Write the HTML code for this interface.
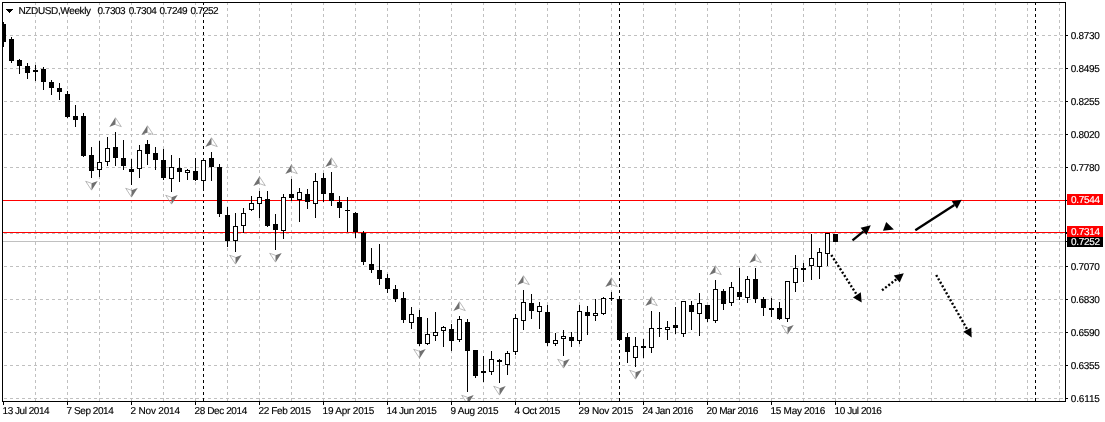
<!DOCTYPE html>
<html><head><meta charset="utf-8"><title>NZDUSD Weekly</title>
<style>
html,body{margin:0;padding:0;background:#fff;}
body{width:1105px;height:422px;overflow:hidden;position:relative;font-family:"Liberation Sans",Arial,sans-serif;}
</style></head><body>
<svg width="1105" height="422" viewBox="0 0 1105 422" style="position:absolute;left:0;top:0">
<rect x="0" y="0" width="1105" height="422" fill="#fff"/>
<clipPath id="cp"><rect x="3" y="3" width="1062" height="398"/></clipPath>
<g shape-rendering="crispEdges" stroke="#c0c0c0" stroke-width="1" fill="none">
<path d="M35.5 2V401 M67.5 2V401 M99.5 2V401 M131.5 2V401 M163.5 2V401 M195.5 2V401 M227.5 2V401 M259.5 2V401 M291.5 2V401 M323.5 2V401 M355.5 2V401 M387.5 2V401 M419.5 2V401 M451.5 2V401 M483.5 2V401 M515.5 2V401 M547.5 2V401 M579.5 2V401 M611.5 2V401 M643.5 2V401 M675.5 2V401 M707.5 2V401 M739.5 2V401 M771.5 2V401 M803.5 2V401 M835.5 2V401 M867.5 2V401 M899.5 2V401 M931.5 2V401 M963.5 2V401 M995.5 2V401 M1027.5 2V401 M1059.5 2V401" stroke-dasharray="3 3"/>
<path d="M4 35.5H1065 M4 68.5H1065 M4 101.5H1065 M4 134.5H1065 M4 167.5H1065 M4 200.5H1065 M4 233.5H1065 M4 266.5H1065 M4 299.5H1065 M4 332.5H1065 M4 365.5H1065 M4 398.5H1065" stroke-dasharray="3 3"/>
</g>
<g shape-rendering="crispEdges" stroke="#000" stroke-width="1" fill="none">
<path d="M203.5 2V401M619.5 2V401M1035.5 2V401" stroke-dasharray="3 3"/>
</g>
<g shape-rendering="crispEdges">
<rect x="3" y="241" width="1062" height="1" fill="#c0c0c0"/>
<rect x="3" y="200" width="1062" height="1" fill="#f00"/>
<rect x="3" y="232" width="1062" height="1" fill="#f00"/>
</g>
<g shape-rendering="crispEdges" clip-path="url(#cp)">
<rect x="3" y="22" width="1" height="25" fill="#000"/>
<rect x="1" y="24" width="5" height="18" fill="#000"/>
<rect x="11" y="37" width="1" height="26" fill="#000"/>
<rect x="9" y="39" width="5" height="22" fill="#000"/>
<rect x="19" y="59" width="1" height="15" fill="#000"/>
<rect x="17" y="60" width="5" height="6" fill="#000"/>
<rect x="27" y="63" width="1" height="16" fill="#000"/>
<rect x="25" y="66" width="5" height="7" fill="#000"/>
<rect x="35" y="65" width="1" height="16" fill="#000"/>
<rect x="33" y="70" width="5" height="2" fill="#000"/>
<rect x="43" y="67" width="1" height="23" fill="#000"/>
<rect x="41" y="69" width="5" height="13" fill="#000"/>
<rect x="51" y="80" width="1" height="15" fill="#000"/>
<rect x="49" y="82" width="5" height="6" fill="#000"/>
<rect x="59" y="83" width="1" height="17" fill="#000"/>
<rect x="57" y="88" width="5" height="4" fill="#000"/>
<rect x="67" y="91" width="1" height="27" fill="#000"/>
<rect x="65" y="94" width="5" height="23" fill="#000"/>
<rect x="75" y="105" width="1" height="22" fill="#000"/>
<rect x="73" y="116" width="5" height="4" fill="#000"/>
<rect x="83" y="113" width="1" height="44" fill="#000"/>
<rect x="81" y="116" width="5" height="40" fill="#000"/>
<rect x="91" y="147" width="1" height="31" fill="#000"/>
<rect x="89" y="155" width="5" height="16" fill="#000"/>
<rect x="99" y="141" width="1" height="36" fill="#000"/>
<rect x="97" y="162" width="5" height="8" fill="#000"/>
<rect x="98" y="163" width="3" height="6" fill="#fff"/>
<rect x="107" y="137" width="1" height="29" fill="#000"/>
<rect x="105" y="148" width="5" height="14" fill="#000"/>
<rect x="106" y="149" width="3" height="12" fill="#fff"/>
<rect x="115" y="132" width="1" height="34" fill="#000"/>
<rect x="113" y="147" width="5" height="11" fill="#000"/>
<rect x="123" y="140" width="1" height="30" fill="#000"/>
<rect x="121" y="158" width="5" height="8" fill="#000"/>
<rect x="131" y="159" width="1" height="26" fill="#000"/>
<rect x="129" y="169" width="5" height="3" fill="#000"/>
<rect x="139" y="145" width="1" height="33" fill="#000"/>
<rect x="137" y="150" width="5" height="19" fill="#000"/>
<rect x="138" y="151" width="3" height="17" fill="#fff"/>
<rect x="147" y="140" width="1" height="25" fill="#000"/>
<rect x="145" y="144" width="5" height="10" fill="#000"/>
<rect x="155" y="147" width="1" height="23" fill="#000"/>
<rect x="153" y="153" width="5" height="7" fill="#000"/>
<rect x="163" y="149" width="1" height="31" fill="#000"/>
<rect x="161" y="160" width="5" height="18" fill="#000"/>
<rect x="171" y="155" width="1" height="37" fill="#000"/>
<rect x="169" y="167" width="5" height="12" fill="#000"/>
<rect x="170" y="168" width="3" height="10" fill="#fff"/>
<rect x="179" y="158" width="1" height="24" fill="#000"/>
<rect x="177" y="168" width="5" height="4" fill="#000"/>
<rect x="187" y="169" width="1" height="11" fill="#000"/>
<rect x="185" y="170" width="5" height="3" fill="#000"/>
<rect x="186" y="171" width="3" height="1" fill="#fff"/>
<rect x="195" y="158" width="1" height="23" fill="#000"/>
<rect x="193" y="171" width="5" height="9" fill="#000"/>
<rect x="203" y="158" width="1" height="33" fill="#000"/>
<rect x="201" y="160" width="5" height="21" fill="#000"/>
<rect x="202" y="161" width="3" height="19" fill="#fff"/>
<rect x="211" y="152" width="1" height="29" fill="#000"/>
<rect x="209" y="158" width="5" height="9" fill="#000"/>
<rect x="219" y="164" width="1" height="53" fill="#000"/>
<rect x="217" y="167" width="5" height="47" fill="#000"/>
<rect x="227" y="207" width="1" height="40" fill="#000"/>
<rect x="225" y="215" width="5" height="26" fill="#000"/>
<rect x="235" y="213" width="1" height="39" fill="#000"/>
<rect x="233" y="226" width="5" height="15" fill="#000"/>
<rect x="234" y="227" width="3" height="13" fill="#fff"/>
<rect x="243" y="208" width="1" height="25" fill="#000"/>
<rect x="241" y="213" width="5" height="13" fill="#000"/>
<rect x="242" y="214" width="3" height="11" fill="#fff"/>
<rect x="251" y="196" width="1" height="15" fill="#000"/>
<rect x="249" y="203" width="5" height="7" fill="#000"/>
<rect x="250" y="204" width="3" height="5" fill="#fff"/>
<rect x="259" y="191" width="1" height="27" fill="#000"/>
<rect x="257" y="197" width="5" height="7" fill="#000"/>
<rect x="258" y="198" width="3" height="5" fill="#fff"/>
<rect x="267" y="191" width="1" height="36" fill="#000"/>
<rect x="265" y="199" width="5" height="27" fill="#000"/>
<rect x="275" y="214" width="1" height="36" fill="#000"/>
<rect x="273" y="224" width="5" height="6" fill="#000"/>
<rect x="283" y="194" width="1" height="45" fill="#000"/>
<rect x="281" y="197" width="5" height="34" fill="#000"/>
<rect x="282" y="198" width="3" height="32" fill="#fff"/>
<rect x="291" y="179" width="1" height="22" fill="#000"/>
<rect x="289" y="194" width="5" height="4" fill="#000"/>
<rect x="299" y="188" width="1" height="34" fill="#000"/>
<rect x="297" y="192" width="5" height="8" fill="#000"/>
<rect x="298" y="193" width="3" height="6" fill="#fff"/>
<rect x="307" y="189" width="1" height="20" fill="#000"/>
<rect x="305" y="194" width="5" height="8" fill="#000"/>
<rect x="315" y="173" width="1" height="45" fill="#000"/>
<rect x="313" y="181" width="5" height="23" fill="#000"/>
<rect x="314" y="182" width="3" height="21" fill="#fff"/>
<rect x="323" y="173" width="1" height="29" fill="#000"/>
<rect x="321" y="178" width="5" height="16" fill="#000"/>
<rect x="331" y="172" width="1" height="34" fill="#000"/>
<rect x="329" y="193" width="5" height="8" fill="#000"/>
<rect x="339" y="196" width="1" height="22" fill="#000"/>
<rect x="337" y="202" width="5" height="6" fill="#000"/>
<rect x="347" y="197" width="1" height="35" fill="#000"/>
<rect x="345" y="210" width="5" height="1" fill="#000"/>
<rect x="355" y="212" width="1" height="26" fill="#000"/>
<rect x="353" y="213" width="5" height="19" fill="#000"/>
<rect x="363" y="231" width="1" height="34" fill="#000"/>
<rect x="361" y="233" width="5" height="29" fill="#000"/>
<rect x="371" y="248" width="1" height="25" fill="#000"/>
<rect x="369" y="264" width="5" height="6" fill="#000"/>
<rect x="379" y="244" width="1" height="41" fill="#000"/>
<rect x="377" y="270" width="5" height="9" fill="#000"/>
<rect x="387" y="274" width="1" height="19" fill="#000"/>
<rect x="385" y="278" width="5" height="11" fill="#000"/>
<rect x="395" y="285" width="1" height="17" fill="#000"/>
<rect x="393" y="289" width="5" height="10" fill="#000"/>
<rect x="403" y="292" width="1" height="31" fill="#000"/>
<rect x="401" y="298" width="5" height="22" fill="#000"/>
<rect x="411" y="307" width="1" height="22" fill="#000"/>
<rect x="409" y="314" width="5" height="9" fill="#000"/>
<rect x="410" y="315" width="3" height="7" fill="#fff"/>
<rect x="419" y="310" width="1" height="36" fill="#000"/>
<rect x="417" y="317" width="5" height="27" fill="#000"/>
<rect x="427" y="318" width="1" height="27" fill="#000"/>
<rect x="425" y="334" width="5" height="10" fill="#000"/>
<rect x="426" y="335" width="3" height="8" fill="#fff"/>
<rect x="435" y="312" width="1" height="29" fill="#000"/>
<rect x="433" y="332" width="5" height="4" fill="#000"/>
<rect x="434" y="333" width="3" height="2" fill="#fff"/>
<rect x="443" y="326" width="1" height="21" fill="#000"/>
<rect x="441" y="327" width="5" height="4" fill="#000"/>
<rect x="442" y="328" width="3" height="2" fill="#fff"/>
<rect x="451" y="324" width="1" height="27" fill="#000"/>
<rect x="449" y="329" width="5" height="12" fill="#000"/>
<rect x="459" y="316" width="1" height="26" fill="#000"/>
<rect x="457" y="319" width="5" height="21" fill="#000"/>
<rect x="458" y="320" width="3" height="19" fill="#fff"/>
<rect x="467" y="319" width="1" height="73" fill="#000"/>
<rect x="465" y="322" width="5" height="29" fill="#000"/>
<rect x="475" y="350" width="1" height="28" fill="#000"/>
<rect x="473" y="350" width="5" height="26" fill="#000"/>
<rect x="483" y="356" width="1" height="26" fill="#000"/>
<rect x="481" y="371" width="5" height="2" fill="#000"/>
<rect x="491" y="351" width="1" height="24" fill="#000"/>
<rect x="489" y="359" width="5" height="13" fill="#000"/>
<rect x="490" y="360" width="3" height="11" fill="#fff"/>
<rect x="499" y="359" width="1" height="24" fill="#000"/>
<rect x="497" y="360" width="5" height="2" fill="#000"/>
<rect x="507" y="351" width="1" height="24" fill="#000"/>
<rect x="505" y="353" width="5" height="12" fill="#000"/>
<rect x="506" y="354" width="3" height="10" fill="#fff"/>
<rect x="515" y="314" width="1" height="41" fill="#000"/>
<rect x="513" y="318" width="5" height="34" fill="#000"/>
<rect x="514" y="319" width="3" height="32" fill="#fff"/>
<rect x="523" y="290" width="1" height="40" fill="#000"/>
<rect x="521" y="302" width="5" height="19" fill="#000"/>
<rect x="522" y="303" width="3" height="17" fill="#fff"/>
<rect x="531" y="294" width="1" height="25" fill="#000"/>
<rect x="529" y="303" width="5" height="8" fill="#000"/>
<rect x="539" y="302" width="1" height="27" fill="#000"/>
<rect x="537" y="306" width="5" height="6" fill="#000"/>
<rect x="538" y="307" width="3" height="4" fill="#fff"/>
<rect x="547" y="305" width="1" height="41" fill="#000"/>
<rect x="545" y="312" width="5" height="31" fill="#000"/>
<rect x="555" y="333" width="1" height="13" fill="#000"/>
<rect x="553" y="340" width="5" height="4" fill="#000"/>
<rect x="554" y="341" width="3" height="2" fill="#fff"/>
<rect x="563" y="330" width="1" height="26" fill="#000"/>
<rect x="561" y="336" width="5" height="3" fill="#000"/>
<rect x="562" y="337" width="3" height="1" fill="#fff"/>
<rect x="571" y="332" width="1" height="15" fill="#000"/>
<rect x="569" y="337" width="5" height="4" fill="#000"/>
<rect x="579" y="305" width="1" height="39" fill="#000"/>
<rect x="577" y="311" width="5" height="30" fill="#000"/>
<rect x="578" y="312" width="3" height="28" fill="#fff"/>
<rect x="587" y="306" width="1" height="29" fill="#000"/>
<rect x="585" y="312" width="5" height="4" fill="#000"/>
<rect x="595" y="299" width="1" height="22" fill="#000"/>
<rect x="593" y="313" width="5" height="3" fill="#000"/>
<rect x="594" y="314" width="3" height="1" fill="#fff"/>
<rect x="603" y="297" width="1" height="18" fill="#000"/>
<rect x="601" y="298" width="5" height="16" fill="#000"/>
<rect x="602" y="299" width="3" height="14" fill="#fff"/>
<rect x="611" y="292" width="1" height="9" fill="#000"/>
<rect x="609" y="298" width="5" height="1" fill="#000"/>
<rect x="619" y="297" width="1" height="44" fill="#000"/>
<rect x="617" y="299" width="5" height="41" fill="#000"/>
<rect x="627" y="333" width="1" height="30" fill="#000"/>
<rect x="625" y="337" width="5" height="15" fill="#000"/>
<rect x="635" y="337" width="1" height="30" fill="#000"/>
<rect x="633" y="346" width="5" height="12" fill="#000"/>
<rect x="634" y="347" width="3" height="10" fill="#fff"/>
<rect x="643" y="339" width="1" height="19" fill="#000"/>
<rect x="641" y="346" width="5" height="2" fill="#000"/>
<rect x="651" y="311" width="1" height="42" fill="#000"/>
<rect x="649" y="328" width="5" height="20" fill="#000"/>
<rect x="650" y="329" width="3" height="18" fill="#fff"/>
<rect x="659" y="312" width="1" height="25" fill="#000"/>
<rect x="657" y="328" width="5" height="1" fill="#000"/>
<rect x="667" y="321" width="1" height="19" fill="#000"/>
<rect x="665" y="327" width="5" height="3" fill="#000"/>
<rect x="666" y="328" width="3" height="1" fill="#fff"/>
<rect x="675" y="307" width="1" height="27" fill="#000"/>
<rect x="673" y="325" width="5" height="3" fill="#000"/>
<rect x="683" y="301" width="1" height="36" fill="#000"/>
<rect x="681" y="301" width="5" height="33" fill="#000"/>
<rect x="682" y="302" width="3" height="31" fill="#fff"/>
<rect x="691" y="301" width="1" height="29" fill="#000"/>
<rect x="689" y="305" width="5" height="7" fill="#000"/>
<rect x="699" y="293" width="1" height="43" fill="#000"/>
<rect x="697" y="303" width="5" height="11" fill="#000"/>
<rect x="698" y="304" width="3" height="9" fill="#fff"/>
<rect x="707" y="305" width="1" height="17" fill="#000"/>
<rect x="705" y="305" width="5" height="14" fill="#000"/>
<rect x="715" y="280" width="1" height="43" fill="#000"/>
<rect x="713" y="289" width="5" height="32" fill="#000"/>
<rect x="714" y="290" width="3" height="30" fill="#fff"/>
<rect x="723" y="289" width="1" height="21" fill="#000"/>
<rect x="721" y="291" width="5" height="13" fill="#000"/>
<rect x="731" y="282" width="1" height="24" fill="#000"/>
<rect x="729" y="287" width="5" height="16" fill="#000"/>
<rect x="730" y="288" width="3" height="14" fill="#fff"/>
<rect x="739" y="268" width="1" height="32" fill="#000"/>
<rect x="737" y="292" width="5" height="5" fill="#000"/>
<rect x="747" y="276" width="1" height="27" fill="#000"/>
<rect x="745" y="279" width="5" height="19" fill="#000"/>
<rect x="746" y="280" width="3" height="17" fill="#fff"/>
<rect x="755" y="268" width="1" height="35" fill="#000"/>
<rect x="753" y="279" width="5" height="20" fill="#000"/>
<rect x="763" y="297" width="1" height="19" fill="#000"/>
<rect x="761" y="299" width="5" height="9" fill="#000"/>
<rect x="771" y="298" width="1" height="19" fill="#000"/>
<rect x="769" y="308" width="5" height="2" fill="#000"/>
<rect x="779" y="302" width="1" height="18" fill="#000"/>
<rect x="777" y="308" width="5" height="11" fill="#000"/>
<rect x="787" y="281" width="1" height="41" fill="#000"/>
<rect x="785" y="281" width="5" height="38" fill="#000"/>
<rect x="786" y="282" width="3" height="36" fill="#fff"/>
<rect x="795" y="255" width="1" height="37" fill="#000"/>
<rect x="793" y="268" width="5" height="15" fill="#000"/>
<rect x="794" y="269" width="3" height="13" fill="#fff"/>
<rect x="803" y="263" width="1" height="19" fill="#000"/>
<rect x="801" y="268" width="5" height="2" fill="#000"/>
<rect x="811" y="234" width="1" height="46" fill="#000"/>
<rect x="809" y="258" width="5" height="8" fill="#000"/>
<rect x="810" y="259" width="3" height="6" fill="#fff"/>
<rect x="819" y="248" width="1" height="31" fill="#000"/>
<rect x="817" y="252" width="5" height="15" fill="#000"/>
<rect x="818" y="253" width="3" height="13" fill="#fff"/>
<rect x="827" y="233" width="1" height="33" fill="#000"/>
<rect x="825" y="233" width="5" height="21" fill="#000"/>
<rect x="826" y="234" width="3" height="19" fill="#fff"/>
<rect x="835" y="234" width="1" height="8" fill="#000"/>
<rect x="833" y="234" width="5" height="8" fill="#000"/>
</g>
<g clip-path="url(#cp)" stroke="#8c8c8c" stroke-width="0.6" stroke-linejoin="miter">
<path d="M115.5 117.3L109.3 126.89999999999999L115.5 124.6Z" fill="#707070" stroke="none"/>
<path d="M115.5 117.8L121.3 126.6L115.5 124.6" fill="none"/>
<path d="M147.5 125.3L141.3 134.9L147.5 132.6Z" fill="#707070" stroke="none"/>
<path d="M147.5 125.8L153.3 134.6L147.5 132.6" fill="none"/>
<path d="M211.5 137.3L205.3 146.9L211.5 144.60000000000002Z" fill="#707070" stroke="none"/>
<path d="M211.5 137.8L217.3 146.60000000000002L211.5 144.60000000000002" fill="none"/>
<path d="M259.5 176.3L253.3 185.9L259.5 183.60000000000002Z" fill="#707070" stroke="none"/>
<path d="M259.5 176.8L265.3 185.60000000000002L259.5 183.60000000000002" fill="none"/>
<path d="M291.5 164.3L285.3 173.9L291.5 171.60000000000002Z" fill="#707070" stroke="none"/>
<path d="M291.5 164.8L297.3 173.60000000000002L291.5 171.60000000000002" fill="none"/>
<path d="M331.5 157.3L325.3 166.9L331.5 164.60000000000002Z" fill="#707070" stroke="none"/>
<path d="M331.5 157.8L337.3 166.60000000000002L331.5 164.60000000000002" fill="none"/>
<path d="M459.5 301.3L453.3 310.90000000000003L459.5 308.6Z" fill="#707070" stroke="none"/>
<path d="M459.5 301.8L465.3 310.6L459.5 308.6" fill="none"/>
<path d="M523.5 275.3L517.3 284.90000000000003L523.5 282.6Z" fill="#707070" stroke="none"/>
<path d="M523.5 275.8L529.3 284.6L523.5 282.6" fill="none"/>
<path d="M611.5 277.3L605.3 286.90000000000003L611.5 284.6Z" fill="#707070" stroke="none"/>
<path d="M611.5 277.8L617.3 286.6L611.5 284.6" fill="none"/>
<path d="M651.5 296.3L645.3 305.90000000000003L651.5 303.6Z" fill="#707070" stroke="none"/>
<path d="M651.5 296.8L657.3 305.6L651.5 303.6" fill="none"/>
<path d="M715.5 265.3L709.3 274.90000000000003L715.5 272.6Z" fill="#707070" stroke="none"/>
<path d="M715.5 265.8L721.3 274.6L715.5 272.6" fill="none"/>
<path d="M755.5 253.3L749.3 262.90000000000003L755.5 260.6Z" fill="#707070" stroke="none"/>
<path d="M755.5 253.8L761.3 262.6L755.5 260.6" fill="none"/>
<path d="M91.5 190.6L97.7 181.0L91.5 183.29999999999998Z" fill="#707070" stroke="none"/>
<path d="M91.5 190.1L85.7 181.29999999999998L91.5 183.29999999999998" fill="none"/>
<path d="M131.5 197.6L137.7 188.0L131.5 190.29999999999998Z" fill="#707070" stroke="none"/>
<path d="M131.5 197.1L125.7 188.29999999999998L131.5 190.29999999999998" fill="none"/>
<path d="M171.5 204.6L177.7 195.0L171.5 197.29999999999998Z" fill="#707070" stroke="none"/>
<path d="M171.5 204.1L165.7 195.29999999999998L171.5 197.29999999999998" fill="none"/>
<path d="M235.5 264.6L241.7 255.00000000000003L235.5 257.3Z" fill="#707070" stroke="none"/>
<path d="M235.5 264.1L229.7 255.3L235.5 257.3" fill="none"/>
<path d="M275.5 262.6L281.7 253.00000000000003L275.5 255.3Z" fill="#707070" stroke="none"/>
<path d="M275.5 262.1L269.7 253.3L275.5 255.3" fill="none"/>
<path d="M419.5 358.6L425.7 349.0L419.5 351.3Z" fill="#707070" stroke="none"/>
<path d="M419.5 358.1L413.7 349.3L419.5 351.3" fill="none"/>
<path d="M467.5 404.6L473.7 395.0L467.5 397.3Z" fill="#707070" stroke="none"/>
<path d="M467.5 404.1L461.7 395.3L467.5 397.3" fill="none"/>
<path d="M499.5 395.6L505.7 386.0L499.5 388.3Z" fill="#707070" stroke="none"/>
<path d="M499.5 395.1L493.7 386.3L499.5 388.3" fill="none"/>
<path d="M563.5 368.6L569.7 359.0L563.5 361.3Z" fill="#707070" stroke="none"/>
<path d="M563.5 368.1L557.7 359.3L563.5 361.3" fill="none"/>
<path d="M635.5 379.6L641.7 370.0L635.5 372.3Z" fill="#707070" stroke="none"/>
<path d="M635.5 379.1L629.7 370.3L635.5 372.3" fill="none"/>
<path d="M787.5 334.6L793.7 325.0L787.5 327.3Z" fill="#707070" stroke="none"/>
<path d="M787.5 334.1L781.7 325.3L787.5 327.3" fill="none"/>
</g>
<g stroke="#000" fill="#000" stroke-linecap="butt">
<line x1="852.5" y1="240.3" x2="863.5" y2="231.4" stroke-width="2.3"/>
<polygon points="870.8,225.3 860.6,227.8 866.5,234.9" stroke="none"/>
<polygon points="886.2,222 883,230.8 893.9,229.5" stroke="none"/>
<line x1="915.3" y1="230.3" x2="954.4" y2="205.0" stroke-width="2.3"/>
<polygon points="961.7,199.7 951.7,201.2 957,208.8" stroke="none"/>
<line x1="831.3" y1="255" x2="856.9" y2="294.9" stroke-width="2.4" stroke-dasharray="2 2"/>
<polygon points="861.7,302.5 860.8,292.2 853,297.5" stroke="none"/>
<line x1="882" y1="290.3" x2="896.8" y2="279.0" stroke-width="2.4" stroke-dasharray="2 2"/>
<polygon points="903.8,273.3 893.8,275.5 899.7,282.5" stroke="none"/>
<line x1="936.2" y1="275" x2="967.3" y2="329.6" stroke-width="2.4" stroke-dasharray="2 2"/>
<polygon points="971.7,337.5 971.3,327.5 963.3,331.7" stroke="none"/>
</g>
<g shape-rendering="crispEdges" fill="#000">
<rect x="2" y="2" width="1064" height="1"/>
<rect x="2" y="2" width="1" height="400"/>
<rect x="1065" y="2" width="1" height="400"/>
<rect x="2" y="401" width="1064" height="1"/>
<rect x="1066" y="35" width="2" height="1"/>
<rect x="1066" y="68" width="2" height="1"/>
<rect x="1066" y="101" width="2" height="1"/>
<rect x="1066" y="134" width="2" height="1"/>
<rect x="1066" y="167" width="2" height="1"/>
<rect x="1066" y="200" width="2" height="1"/>
<rect x="1066" y="233" width="2" height="1"/>
<rect x="1066" y="266" width="2" height="1"/>
<rect x="1066" y="299" width="2" height="1"/>
<rect x="1066" y="332" width="2" height="1"/>
<rect x="1066" y="365" width="2" height="1"/>
<rect x="1066" y="398" width="2" height="1"/>
<rect x="3" y="402" width="1" height="3"/>
<rect x="67" y="402" width="1" height="3"/>
<rect x="131" y="402" width="1" height="3"/>
<rect x="195" y="402" width="1" height="3"/>
<rect x="259" y="402" width="1" height="3"/>
<rect x="323" y="402" width="1" height="3"/>
<rect x="387" y="402" width="1" height="3"/>
<rect x="451" y="402" width="1" height="3"/>
<rect x="515" y="402" width="1" height="3"/>
<rect x="579" y="402" width="1" height="3"/>
<rect x="643" y="402" width="1" height="3"/>
<rect x="707" y="402" width="1" height="3"/>
<rect x="771" y="402" width="1" height="3"/>
<rect x="835" y="402" width="1" height="3"/>
<rect x="1067" y="236" width="36" height="11" fill="#000"/>
<rect x="1067" y="226" width="36" height="11" fill="#f00"/>
<rect x="1067" y="194" width="36" height="11" fill="#f00"/>
<rect x="1066" y="200" width="1" height="1"/>
<rect x="1066" y="232" width="1" height="1"/>
<rect x="1066" y="241" width="1" height="1"/>
<polygon points="5.5,9 13.5,9 9.5,13"/>
</g>
<g font-family="'Liberation Sans', Arial, sans-serif" font-size="10px" fill="#000" letter-spacing="-0.5" stroke="#000" stroke-width="0.15" text-rendering="geometricPrecision">
<text y="14"><tspan x="18.5" letter-spacing="-0.37">NZDUSD,Weekly</tspan><tspan x="97.5">0.7303</tspan><tspan x="128.7">0.7304</tspan><tspan x="159.5">0.7249</tspan><tspan x="190.5">0.7252</tspan></text>
<text x="1070.8" y="39" textLength="28.6">0.8730</text>
<text x="1070.8" y="72" textLength="28.6">0.8495</text>
<text x="1070.8" y="105" textLength="28.6">0.8255</text>
<text x="1070.8" y="138" textLength="28.6">0.8020</text>
<text x="1070.8" y="171" textLength="28.6">0.7780</text>
<text x="1070.8" y="270" textLength="28.6">0.7070</text>
<text x="1070.8" y="303" textLength="28.6">0.6830</text>
<text x="1070.8" y="336" textLength="28.6">0.6590</text>
<text x="1070.8" y="369" textLength="28.6">0.6355</text>
<text x="1070.8" y="402" textLength="28.6">0.6115</text>
<text x="1071" y="203" fill="#fff" stroke="#fff" textLength="28.6">0.7544</text>
<text x="1071" y="235" fill="#fff" stroke="#fff" textLength="28.6">0.7314</text>
<text x="1071" y="245" fill="#fff" stroke="#fff" textLength="28.6">0.7252</text>
<text x="2.6" y="414" textLength="46.5">13 Jul 2014</text>
<text x="66.6" y="414" textLength="46.7">7 Sep 2014</text>
<text x="130.6" y="414" textLength="48.9">2 Nov 2014</text>
<text x="194.6" y="414" textLength="52.1">28 Dec 2014</text>
<text x="258.6" y="414" textLength="51.9">22 Feb 2015</text>
<text x="322.6" y="414" textLength="51.3">19 Apr 2015</text>
<text x="386.6" y="414" textLength="49.7">14 Jun 2015</text>
<text x="450.6" y="414" textLength="47.5">9 Aug 2015</text>
<text x="514.6" y="414" textLength="45.1">4 Oct 2015</text>
<text x="578.6" y="414" textLength="54.3">29 Nov 2015</text>
<text x="642.6" y="414" textLength="50.3">24 Jan 2016</text>
<text x="706.6" y="414" textLength="51.3">20 Mar 2016</text>
<text x="770.6" y="414" textLength="54.3">15 May 2016</text>
<text x="834.6" y="414" textLength="46.7">10 Jul 2016</text>
</g>
</svg>
</body></html>
